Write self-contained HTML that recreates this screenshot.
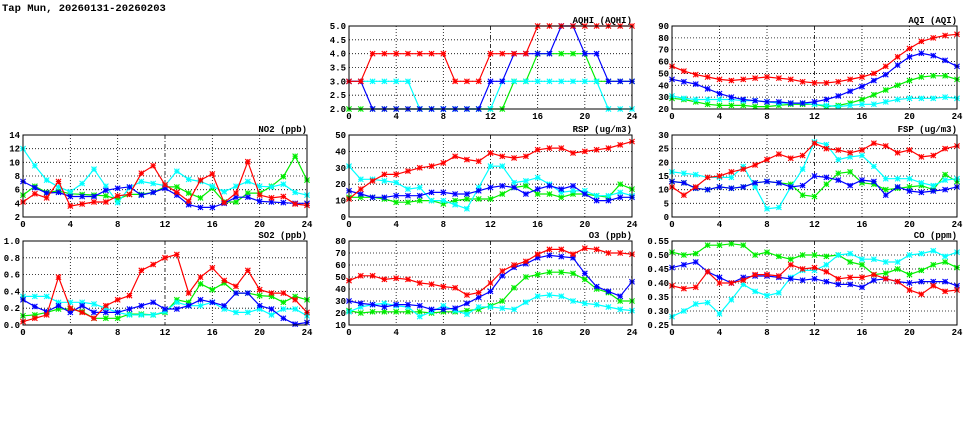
<!DOCTYPE html>
<html><head><meta charset="utf-8"><style>
html,body{margin:0;padding:0;background:#fff;}
svg{display:block;font-family:"Liberation Mono",monospace;font-weight:bold;}
</style></head><body>
<svg id="chart" width="975" height="447" viewBox="0 0 975 447" xmlns="http://www.w3.org/2000/svg">
<rect width="975" height="447" fill="#fff"/>
<text x="2" y="11" font-size="10.5">Tap Mun, 20260131-20260203</text>
</svg>
<script>
const xTicks = [0,4,8,12,16,20,24];
const seriesColors = ["#ff0000","#0000ff","#00ee00","#00ffff"];

const no2Red = [4.2,5.4,4.8,7.2,3.6,3.9,4.2,4.2,5.1,5.3,8.4,9.5,6.7,5.6,4.3,7.4,8.3,4.1,5.5,10.1,5.2,4.8,5,3.9,3.7];
const no2Blue = [7.2,6.3,5.5,5.6,5.0,5.0,5.0,5.9,6.2,6.4,5.2,5.6,6.2,5.2,3.8,3.4,3.4,4.0,4.9,4.9,4.3,4.2,4.1,4.0,4.0];
const no2Green = [5.2,6.5,5.6,5.8,5.4,5.3,5.2,5.1,4.6,5.3,5.3,5.6,6.4,6.4,5.5,4.8,6.2,4.2,4.2,5.5,5.5,6.5,7.9,10.9,7.4];
const no2Cyan = [12,9.5,7.4,6.4,5.7,6.9,9.0,6.5,4.1,6.3,7.2,6.9,6.6,8.7,7.5,7.2,6.5,5.7,6.5,7.2,6.5,6.4,6.8,5.6,5.2];
const no2Ticks = [2,4,6,8,10,12,14];

const so2Red = [.04,.08,.12,.57,.2,.15,.08,.23,.3,.35,.65,.72,.8,.84,.38,.57,.68,.53,.46,.65,.42,.38,.38,.3,.15];
const so2Blue = [.3,.22,.16,.23,.15,.23,.15,.15,.15,.19,.23,.27,.19,.19,.23,.3,.27,.23,.38,.38,.23,.19,.08,.01,.03];
const so2Green = [.11,.12,.15,.19,.19,.16,.08,.08,.08,.13,.13,.12,.15,.3,.27,.49,.42,.5,.38,.38,.35,.34,.27,.34,.3];
const so2Cyan = [.34,.34,.34,.27,.27,.27,.25,.2,.15,.12,.12,.12,.16,.27,.23,.23,.27,.19,.15,.15,.19,.12,.19,.19,.11];
const so2Ticks = [0,0.2,0.4,0.6,0.8,1.0];

const aqhiRed = [3,3,4,4,4,4,4,4,4,3,3,3,4,4,4,4,5,5,5,5,5,5,5,5,5];
const aqhiBlue = [3,3,2,2,2,2,2,2,2,2,2,2,3,3,4,4,4,4,5,5,4,4,3,3,3];
const aqhiGreen = [2,2,2,2,2,2,2,2,2,2,2,2,2,2,3,3,4,4,4,4,4,3,3,3,3];
const aqhiCyan = [3,3,3,3,3,3,2,2,2,2,2,2,2,3,3,3,3,3,3,3,3,3,2,2,2];
const aqhiTicks = [2.0,2.5,3.0,3.5,4.0,4.5,5.0];

const aqiRed = [56,52,49,47,45,44,45,46,47,46,45,43,42,42,43,45,47,50,56,64,71,77,80,82,83];
const aqiBlue = [45,43,41,37,33,30,28,27,26,26,25,25,26,28,31,35,39,44,49,57,64,67,65,61,56];
const aqiGreen = [29,28,26,24,23,23,23,22,22,23,24,24,24,22,23,25,28,32,36,40,44,47,48,48,45];
const aqiCyan = [31,29,28,28,28,28,27,27,26,25,25,25,24,23,22,23,24,24,26,28,29,29,29,30,29];
const aqiTicks = [20,30,40,50,60,70,80,90];

const rspRed = [11,17,22,26,26,28,30,31,33,37,35,34,39,37,36,37,41,42,42,39,40,41,42,44,46];
const rspBlue = [16,14,12,12,13,13,13,15,15,14,14,16,18,19,18,14,17,19,17,19,14,10,10,12,12];
const rspGreen = [12,12,12,11,9,9,10,10,8,10,11,11,11,14,18,19,14,14,12,14,14,13,12,20,17];
const rspCyan = [31,23,23,22,21,17,18,10,10,7.5,5,18,31,31,21,22,24,20,15,16,16,13,13,15,13];
const rspTicks = [0,10,20,30,40,50];

const o3Red = [47,51,51,48,49,48,45,44,42,41,35,37,45,55,60,63,69,73,73,69,74,73,70,70,69];
const o3Blue = [30,28,27,25,27,27,26,23,23,24,28,33,38,51,58,61,66,68,67,66,53,42,38,34,46];
const o3Green = [22,20,21,21,21,21,21,20,21,21,22,23,26,30,41,50,52,54,54,53,48,40,37,30,30];
const o3Cyan = [21,25,27,28,26,25,17,21,26,22,19,25,25,24,23,29,34,35,34,30,28,27,25,23,22];
const o3Ticks = [10,20,30,40,50,60,70,80];

const fspRed = [11,8,11,14.5,15,16.5,17.5,19,21,23,21.5,22.5,27,25,24.5,23.5,24.5,27,26,23.5,24.5,22,22.5,25,26];
const fspBlue = [13,12.5,10.5,10,11,10.5,11,12.5,13,12.5,11,11.5,15,14.5,13.5,11.5,13.5,13,8,11,9.5,9,9.5,10,11];
const fspGreen = [13,12.5,10.5,10,11,10.5,11,12.5,13,12.5,12,8,7.5,12,16,16.5,12.5,12,10,10.5,11,11.5,10,15.5,13];
const fspCyan = [16.5,16,15.5,14.5,14.5,14.5,18.5,11,3,3.5,11,17.5,27.5,26.5,21,22,22.5,18.5,14,14,14,12.5,11.5,13.5,14];
const fspTicks = [0,5,10,15,20,25,30];

const coRed = [.39,.38,.385,.44,.40,.40,.41,.43,.43,.425,.465,.45,.455,.44,.415,.42,.42,.43,.415,.405,.375,.36,.39,.37,.375];
const coBlue = [.455,.465,.475,.44,.42,.40,.42,.425,.425,.42,.415,.41,.415,.405,.395,.395,.385,.41,.415,.405,.40,.405,.405,.405,.39];
const coGreen = [.51,.50,.505,.535,.535,.54,.535,.50,.51,.495,.485,.50,.50,.495,.50,.475,.465,.43,.435,.45,.43,.445,.465,.475,.455];
const coCyan = [.28,.30,.325,.33,.29,.34,.395,.37,.355,.365,.42,.445,.445,.465,.50,.505,.485,.485,.475,.475,.50,.505,.515,.495,.51];
const coTicks = [0.25,0.30,0.35,0.40,0.45,0.50,0.55];

const NS = "http://www.w3.org/2000/svg";
const svg = document.getElementById("chart");
function mk(tag, attrs, parent){const e=document.createElementNS(NS,tag);for(const k in attrs)e.setAttribute(k,attrs[k]);(parent||svg).appendChild(e);return e;}

const cols=[[23,307],[349,632],[672,957]];
const rows=[[26,109],[135,217],[241,325]];
const drawOrder=[2,3,1,0];

function panel(name,title,col,row,ticks,dec,series){
  const [L,R]=cols[col],[T,B]=rows[row];
  const lo=ticks[0],hi=ticks[ticks.length-1];
  const xs=v=>L+(R-L)*v/24, ys=v=>B-(B-T)*(v-lo)/(hi-lo);
  const g=mk("g",{});
  
  
  ticks.forEach((t,i)=>{
    if(i>0&&i<ticks.length-1){const gl=mk("line",{x1:L,x2:R,y1:ys(t),y2:ys(t),stroke:"#000","stroke-width":0.8,"stroke-dasharray":"1,2"},g);}
    const tl=mk("text",{x:L-3,y:ys(t)+3,"font-size":9,"text-anchor":"end"},g);
    
    
    tl.textContent=t.toFixed(dec);
  });
  xTicks.forEach((t,i)=>{
    if(i>0&&i<xTicks.length-1){const gl=mk("line",{x1:xs(t),x2:xs(t),y1:T,y2:B,stroke:"#000","stroke-width":0.8,"stroke-dasharray":t==12?"4,2,1,2":"1,2"},g);}
    const tl=mk("text",{x:xs(t),y:B+10,"font-size":9,"text-anchor":"middle"},g);
    
    
    tl.textContent=t;
  });
  const tt=mk("text",{x:R,y:T-3,"font-size":9,"text-anchor":"end"},g);
  
  
  tt.textContent=title;
  drawOrder.forEach(si=>{
    const arr=series[si];
    const c=seriesColors[si];
    const pts=arr.map((v,i)=>xs(i).toFixed(1)+","+ys(v).toFixed(1)).join(" ");
    const pl=mk("polyline",{points:pts,fill:"none",stroke:c,"stroke-width":1.2},g);
    
    
    arr.forEach((v,i)=>{
      const x=xs(i),y=ys(v),s=2.6;
      const m=mk("path",{d:`M${x-s},${y-s}L${x+s},${y+s}M${x-s},${y+s}L${x+s},${y-s}M${x-s},${y}L${x+s},${y}M${x},${y-s}L${x},${y+s}`,stroke:c,"stroke-width":1.1},g);
      
      
    });
  });
  const fr=mk("rect",{x:L,y:T,width:R-L,height:B-T,fill:"none",stroke:"#000","stroke-width":1},g);
  
  
}
panel("aqhi","AQHI (AQHI)",1,0,aqhiTicks,1,[aqhiRed,aqhiBlue,aqhiGreen,aqhiCyan]);
panel("aqi","AQI (AQI)",2,0,aqiTicks,0,[aqiRed,aqiBlue,aqiGreen,aqiCyan]);
panel("no2","NO2 (ppb)",0,1,no2Ticks,0,[no2Red,no2Blue,no2Green,no2Cyan]);
panel("rsp","RSP (ug/m3)",1,1,rspTicks,0,[rspRed,rspBlue,rspGreen,rspCyan]);
panel("fsp","FSP (ug/m3)",2,1,fspTicks,0,[fspRed,fspBlue,fspGreen,fspCyan]);
panel("so2","SO2 (ppb)",0,2,so2Ticks,1,[so2Red,so2Blue,so2Green,so2Cyan]);
panel("o3","O3 (ppb)",1,2,o3Ticks,0,[o3Red,o3Blue,o3Green,o3Cyan]);
panel("co","CO (ppm)",2,2,coTicks,2,[coRed,coBlue,coGreen,coCyan]);
</script>
</body></html>
